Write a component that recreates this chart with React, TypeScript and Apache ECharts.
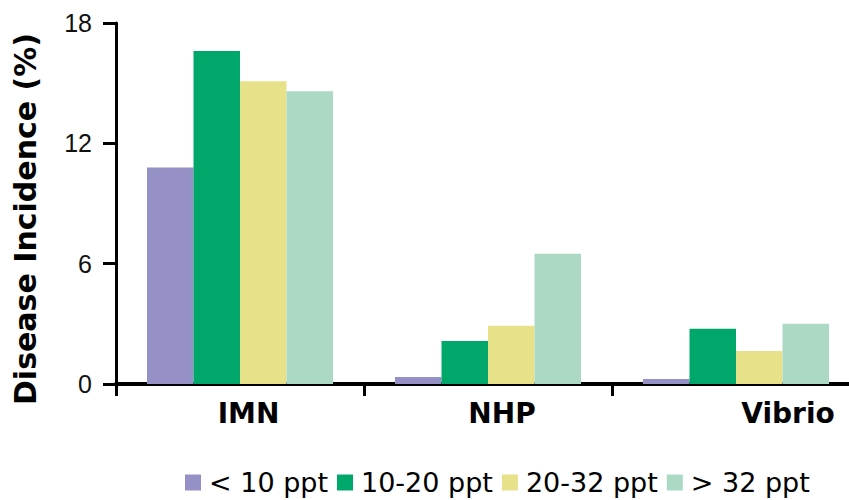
import React, { useEffect, useRef } from "react";
import * as echarts from "echarts";

const categories = ["IMN", "NHP", "Vibrio"];
const seriesNames = ["< 10 ppt", "10-20 ppt", "20-32 ppt", "> 32 ppt"];
const lt10 = [10.8, 0.35, 0.25];
const s10to20 = [16.6, 2.15, 2.75];
const s20to32 = [15.1, 2.9, 1.65];
const gt32 = [14.6, 6.5, 3.0];
const yTicks = { min: 0, max: 18, interval: 6 };
const colors = ["#9590C6", "#00A76A", "#E7E289", "#ABD9C4"];

export default function App() {
  const ref = useRef<HTMLDivElement>(null);
  useEffect(() => {
    if (!ref.current) return;
    const chart = echarts.init(ref.current, null, { renderer: "svg" });
    const values = [lt10, s10to20, s20to32, gt32];
    const catFont = {
      fontFamily: "DejaVu Sans",
      fontWeight: "bold" as const,
      fontSize: 28,
      color: "#000",
    };
    chart.setOption({
      animation: false,
      backgroundColor: "#fff",
      grid: { left: 116, right: 0, top: 23, bottom: 116, containLabel: false },
      legend: {
        left: 180,
        top: 464,
        padding: 5,
        itemWidth: 16,
        itemHeight: 16,
        itemGap: 9,
        icon: "rect",
        textStyle: {
          fontFamily: "DejaVu Sans",
          fontSize: 27,
          color: "#000",
          padding: [0, 0, 0, 3],
        },
        data: seriesNames,
      },
      xAxis: {
        type: "category",
        data: categories,
        axisLine: { lineStyle: { color: "#000", width: 4 } },
        axisTick: { show: true, length: 12, lineStyle: { color: "#000", width: 3 } },
        axisLabel: {
          margin: 15,
          ...catFont,
          formatter: (v: string, i: number) => `{c${i}|${v}}`,
          rich: {
            c0: { ...catFont, padding: [0, 0, 0, 17] },
            c1: { ...catFont, padding: [0, 0, 0, 28] },
            c2: { ...catFont, padding: [0, 0, 0, 104] },
          },
        },
        splitLine: { show: false },
      },
      yAxis: {
        type: "value",
        min: yTicks.min,
        max: yTicks.max,
        interval: yTicks.interval,
        name: "Disease Incidence (%)",
        nameLocation: "middle",
        nameGap: 76,
        nameTextStyle: {
          fontFamily: "DejaVu Sans",
          fontWeight: "bold",
          fontSize: 30,
          color: "#000",
          padding: [0, 31, 0, 0],
        },
        axisLine: { show: true, lineStyle: { color: "#000", width: 3 } },
        axisTick: { show: true, length: 13, lineStyle: { color: "#000", width: 3 } },
        axisLabel: {
          margin: 24,
          fontFamily: "Liberation Sans",
          fontSize: 25,
          color: "#111",
        },
        splitLine: { show: false },
      },
      series: seriesNames.map((name, i) => ({
        name,
        type: "bar",
        data: values[i],
        barGap: "0%",
        barCategoryGap: "25%",
        itemStyle: { color: colors[i] },
      })),
    });
    return () => chart.dispose();
  }, []);
  return (
    <div
      style={{
        position: "absolute",
        left: 0,
        top: 0,
        width: 849,
        height: 500,
        overflow: "hidden",
      }}
    >
      <div ref={ref} style={{ width: 860, height: 500 }} />
    </div>
  );
}
